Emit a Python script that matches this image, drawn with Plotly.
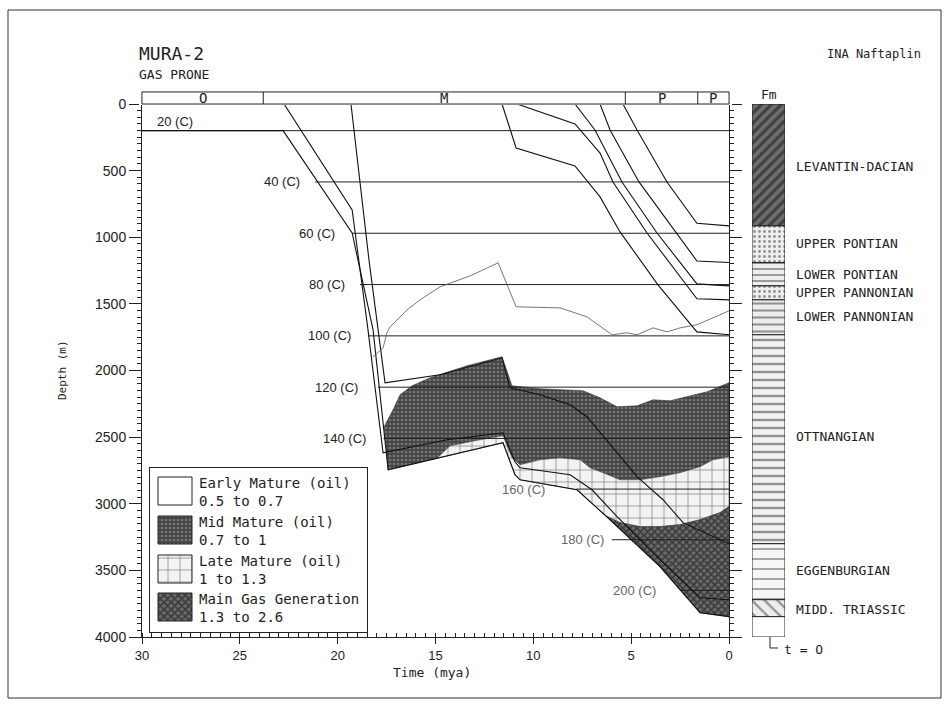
import plotly.graph_objects as go

W, H = 949, 707

# ---------------- data ----------------
epoch_labels = ["O", "M", "P", "P"]
epoch_bounds = [30.0, 23.8, 5.3, 1.6, 0.0]

iso_labels = ["20 (C)", "40 (C)", "60 (C)", "80 (C)", "100 (C)", "120 (C)",
              "140 (C)", "160 (C)", "180 (C)", "200 (C)"]
iso_depth = [200, 585, 970, 1355, 1740, 2125, 2510, 2890, 3270, 3650]
iso_start = [30.0, 21.15, 19.26, 18.86, 18.45, 17.94, 17.66, 7.80, 5.99, 2.47]

# burial curves of formation bases (time in mya, depth in m)
lev_base_t = [5.42, 4.70, 3.17, 1.64, 0.0]
lev_base_d = [0, 195, 585, 895, 915]
upont_base_t = [6.59, 6.08, 4.60, 2.66, 1.64, 0.0]
upont_base_d = [0, 195, 585, 968, 1178, 1190]
lpont_base_t = [7.87, 6.85, 5.47, 3.68, 1.64, 0.0]
lpont_base_d = [0, 195, 585, 968, 1350, 1365]
upann_base_t = [10.83, 7.87, 6.59, 5.93, 4.19, 1.64, 0.0]
upann_base_d = [0, 150, 368, 585, 968, 1462, 1470]
lpann_base_t = [11.60, 10.88, 7.87, 6.59, 5.57, 3.63, 1.64, 0.0]
lpann_base_d = [0, 330, 465, 697, 960, 1357, 1710, 1732]
ottn_base_t = [19.32, 18.40, 17.58, 14.77, 11.60, 11.19, 9.66, 8.12, 7.26, 5.72, 4.70, 3.37, 2.35, 0.0]
ottn_base_d = [0, 1170, 2092, 2032, 1905, 2130, 2182, 2257, 2347, 2617, 2797, 2970, 3142, 3300]
egg_base_t = [22.74, 19.26, 18.45, 17.68, 14.41, 11.55, 10.94, 10.68, 8.12, 7.00, 5.72, 3.53, 1.48, 0.0]
egg_base_d = [0, 795, 1695, 2617, 2520, 2467, 2685, 2730, 2782, 2895, 3097, 3420, 3705, 3720]
tri_base_t = [30.0, 22.79, 19.26, 18.19, 17.42, 11.55, 10.94, 10.68, 7.77, 6.08, 3.53, 1.48, 0.0]
tri_base_d = [200, 200, 968, 1695, 2745, 2542, 2782, 2820, 2895, 3120, 3472, 3817, 3847]

# maturity (Ro) boundaries
ro05_t = [18.19, 17.68, 17.48, 17.32, 16.81, 16.45, 15.79, 14.77, 13.23, 11.80, 10.88, 8.64,
          7.26, 5.98, 5.21, 4.70, 3.88, 3.17, 2.50, 1.64, 0.0]
ro05_d = [1897, 1830, 1717, 1672, 1597, 1545, 1470, 1372, 1290, 1192, 1522, 1530,
          1597, 1732, 1717, 1732, 1680, 1710, 1680, 1657, 1552]
ro07_t = [17.62, 17.17, 16.81, 16.20, 15.28, 13.39, 11.60, 11.09, 9.66, 7.46, 6.59, 5.72,
          4.70, 3.88, 3.01, 2.15, 1.12, 0.0]
ro07_d = [2420, 2295, 2182, 2115, 2055, 1965, 1897, 2115, 2137, 2152, 2205, 2272,
          2265, 2220, 2227, 2197, 2160, 2092]
ro10_t = [14.92, 14.26, 12.72, 11.55, 11.09, 10.68, 9.66, 8.64, 7.61, 7.10, 6.44, 5.57,
          4.55, 3.53, 2.50, 1.48, 0.82, 0.0]
ro10_d = [2659, 2565, 2520, 2490, 2655, 2707, 2670, 2655, 2670, 2730, 2767, 2820,
          2820, 2797, 2767, 2722, 2670, 2647]
ro13_t = [6.29, 5.57, 4.55, 3.53, 2.50, 1.48, 0.46, 0.0]
ro13_d = [3092, 3142, 3172, 3172, 3157, 3120, 3067, 3022]

# formation column
fm_names = ["LEVANTIN-DACIAN", "UPPER PONTIAN", "LOWER PONTIAN", "UPPER PANNONIAN",
            "LOWER PANNONIAN", "OTTNANGIAN", "EGGENBURGIAN", "MIDD. TRIASSIC"]
fm_top = [0, 915, 1190, 1365, 1470, 1732, 3300, 3720]
fm_base = [915, 1190, 1365, 1470, 1732, 3300, 3720, 3847]

leg_names = ["Early Mature (oil)", "Mid Mature (oil)", "Late Mature (oil)", "Main Gas Generation"]
leg_ranges = ["0.5 to 0.7", "0.7 to 1", "1 to 1.3", "1.3 to 2.6"]

# ---------------- styles / layout helpers ----------------
MONO = "DejaVu Sans Mono"
SANS = "Liberation Sans"
INK = "#222222"

def px(x):
    return x / W

def py(y):
    return 1 - y / H

def between(ts, ds, lo, hi):
    return sorted([(t, d) for t, d in zip(ts, ds) if lo < t < hi], key=lambda p: p[0])

mid_style = dict(shape="+", size=4, solidity=0.55, fgcolor="#0a0a0a", bgcolor="#737373")
late_style = dict(shape="+", size=12, solidity=0.12, fgcolor="#111111", bgcolor="#f3f3f3")
gas_style = dict(shape="x", size=5, solidity=0.55, fgcolor="#0a0a0a", bgcolor="#6a6a6a")

fig = go.Figure()

# ---------- maturity fills ----------
poly = list(zip(ro07_t, ro07_d)) + list(zip(ro10_t, ro10_d))[::-1] + \
    between(tri_base_t, tri_base_d, ro10_t[0], ro07_t[0])
poly.append(poly[0])
fig.add_trace(go.Scatter(x=[p[0] for p in poly], y=[p[1] for p in poly], fill="toself",
                         mode="lines", line=dict(color="#333", width=0.6),
                         fillcolor=mid_style["bgcolor"], fillpattern=mid_style, hoverinfo="skip"))
poly = list(zip(ro10_t, ro10_d)) + list(zip(ro13_t, ro13_d))[::-1] + \
    between(tri_base_t, tri_base_d, ro13_t[0], ro10_t[0])
poly.append(poly[0])
fig.add_trace(go.Scatter(x=[p[0] for p in poly], y=[p[1] for p in poly], fill="toself",
                         mode="lines", line=dict(color="#444", width=0.6),
                         fillcolor=late_style["bgcolor"], fillpattern=late_style, hoverinfo="skip"))
poly = list(zip(ro13_t, ro13_d)) + between(tri_base_t, tri_base_d, -1, ro13_t[0])
poly.append(poly[0])
fig.add_trace(go.Scatter(x=[p[0] for p in poly], y=[p[1] for p in poly], fill="toself",
                         mode="lines", line=dict(color="#333", width=0.6),
                         fillcolor=gas_style["bgcolor"], fillpattern=gas_style, hoverinfo="skip"))

# ---------- isotherms ----------
for d, t0 in zip(iso_depth, iso_start):
    fig.add_trace(go.Scatter(x=[t0, 0], y=[d, d], mode="lines",
                             line=dict(color=INK, width=1), hoverinfo="skip"))

# ---------- burial curves ----------
for ts, ds in [(lev_base_t, lev_base_d), (upont_base_t, upont_base_d), (lpont_base_t, lpont_base_d),
               (upann_base_t, upann_base_d), (lpann_base_t, lpann_base_d), (ottn_base_t, ottn_base_d),
               (egg_base_t, egg_base_d), (tri_base_t, tri_base_d)]:
    fig.add_trace(go.Scatter(x=ts, y=ds, mode="lines", line=dict(color="#111", width=1.1),
                             hoverinfo="skip"))

fig.add_trace(go.Scatter(x=ro05_t, y=ro05_d, mode="lines", line=dict(color="#555", width=0.8),
                         hoverinfo="skip"))

# ---------- formation column ----------
col_patterns = [
    dict(shape="/", size=7, solidity=0.45, fgcolor="#111", bgcolor="#6e6e6e"),
    dict(shape=".", size=5, solidity=0.25, fgcolor="#333", bgcolor="#eeeeee"),
    dict(shape="-", size=6, solidity=0.3, fgcolor="#333", bgcolor="#eeeeee"),
    dict(shape=".", size=5, solidity=0.25, fgcolor="#333", bgcolor="#eeeeee"),
    dict(shape="-", size=7, solidity=0.3, fgcolor="#333", bgcolor="#eeeeee"),
    dict(shape="-", size=8, solidity=0.3, fgcolor="#333", bgcolor="#f0f0f0"),
    dict(shape="-", size=10, solidity=0.18, fgcolor="#444", bgcolor="#f6f6f6"),
    dict(shape="\\", size=9, solidity=0.25, fgcolor="#333", bgcolor="#eeeeee"),
]
for top, base, pat in zip(fm_top, fm_base, col_patterns):
    fig.add_trace(go.Bar(x=[0], y=[base - top], base=[top], width=[1], xaxis="x2", yaxis="y",
                         marker=dict(color=pat["bgcolor"], pattern=pat, line=dict(color=INK, width=1)),
                         hoverinfo="skip"))
fig.add_trace(go.Bar(x=[0], y=[4000 - fm_base[-1]], base=[fm_base[-1]], width=[1], xaxis="x2", yaxis="y",
                     marker=dict(color="white", line=dict(color=INK, width=1)), hoverinfo="skip"))

# ---------- legend box (own small axes) ----------
sw_top = [9, 48, 87, 125]
styles = [None, mid_style, late_style, gas_style]
for top, st in zip(sw_top, styles):
    if st is None:
        mk = dict(color="white", line=dict(color=INK, width=1))
    else:
        mk = dict(color=st["bgcolor"], pattern=st, line=dict(color=INK, width=1))
    fig.add_trace(go.Bar(x=[25], y=[28], base=[top], width=[34], xaxis="x3", yaxis="y3",
                         marker=mk, hoverinfo="skip"))

fig.add_trace(go.Scatter(x=[None], y=[None], xaxis="x4", yaxis="y4", hoverinfo="skip"))

ann = []
iso_lab_t = [29.33, 21.82, 20.03, 19.52, 19.21, 18.86, 18.45, 9.30, 6.30, 3.63]
for i, (lab, d, lt) in enumerate(zip(iso_labels, iso_depth, iso_lab_t)):
    if i == 0:
        ann.append(dict(x=lt, y=d, xref="x", yref="y", text=lab, showarrow=False, xanchor="left",
                        yanchor="bottom", yshift=0, font=dict(family=SANS, size=13, color=INK)))
    else:
        ann.append(dict(x=lt, y=d, xref="x", yref="y", text=lab, showarrow=False, xanchor="right",
                        yanchor="middle", font=dict(family=SANS, size=13,
                                                    color=INK if i < 7 else "#666")))

for i, lab in enumerate(epoch_labels):
    ann.append(dict(x=(epoch_bounds[i] + epoch_bounds[i + 1]) / 2, y=0.5, xref="x4", yref="y4",
                    text=lab, showarrow=False, xanchor="center", yanchor="middle",
                    font=dict(family=MONO, size=14, color=INK)))

fm_lab_d = [472, 1050, 1282, 1417, 1597, 2497, 3502, 3795]
for name, d in zip(fm_names, fm_lab_d):
    ann.append(dict(x=px(794), y=d, xref="paper", yref="y", text=name, showarrow=False,
                    xanchor="left", yanchor="middle", font=dict(family=MONO, size=13, color=INK)))

for top, n1, n2 in zip(sw_top, leg_names, leg_ranges):
    ann.append(dict(x=47, y=top + 6, xref="x3", yref="y3", text=n1, showarrow=False, xanchor="left",
                    yanchor="middle", font=dict(family=MONO, size=14, color=INK)))
    ann.append(dict(x=47, y=top + 24, xref="x3", yref="y3", text=n2, showarrow=False, xanchor="left",
                    yanchor="middle", font=dict(family=MONO, size=14, color=INK)))

def free_text(x, y, text, size, xanchor="center", angle=0):
    return dict(x=px(x), y=py(y), xref="paper", yref="paper", text=text, showarrow=False,
                xanchor=xanchor, yanchor="middle", textangle=angle,
                font=dict(family=MONO, size=size, color=INK))

ann += [
    free_text(137, 53, "MURA-2", 18, "left"),
    free_text(137, 74, "GAS PRONE", 13, "left"),
    free_text(923, 54, "INA Naftaplin", 12, "right"),
    free_text(769, 95, "Fm", 13),
    free_text(782, 649, "t = O", 13, "left"),
    free_text(432, 672, "Time (mya)", 13),
    free_text(62, 370, "Depth (m)", 11, angle=-90),
]

shapes = [
    dict(type="rect", xref="paper", yref="paper", x0=px(8), x1=px(941), y0=py(698), y1=py(10),
         line=dict(color="#333", width=1)),
    dict(type="rect", xref="x4", yref="y4", x0=epoch_bounds[0], x1=epoch_bounds[-1], y0=0, y1=1,
         line=dict(color=INK, width=1)),
    dict(type="line", xref="paper", yref="paper", x0=px(770), x1=px(770), y0=py(637), y1=py(648),
         line=dict(color=INK, width=1)),
    dict(type="line", xref="paper", yref="paper", x0=px(770), x1=px(778), y0=py(648), y1=py(648),
         line=dict(color=INK, width=1)),
]
for b in epoch_bounds[1:-1]:
    shapes.append(dict(type="line", xref="x4", yref="y4", x0=b, x1=b, y0=0, y1=1,
                       line=dict(color=INK, width=1)))

tickfont = dict(family=SANS, size=14, color=INK)
fig.update_layout(
    width=W, height=H, margin=dict(l=0, r=0, t=0, b=0, autoexpand=False),
    paper_bgcolor="white", plot_bgcolor="white", showlegend=False, barmode="overlay",
    xaxis=dict(domain=[px(142), px(729)], range=[30, 0], anchor="y",
               tickvals=[30, 25, 20, 15, 10, 5, 0], ticks="outside", ticklen=6, tickcolor=INK,
               showline=True, linecolor=INK, linewidth=1, mirror=True, showgrid=False,
               zeroline=False, tickfont=dict(family=SANS, size=13, color=INK),
               minor=dict(dtick=0.5, ticks="inside", ticklen=4, tickcolor=INK, showgrid=False)),
    yaxis=dict(domain=[py(637), py(104)], range=[4000, 0], anchor="x", dtick=500,
               ticks="outside", ticklen=12, tickcolor=INK, showline=True, linecolor=INK,
               linewidth=1, mirror="ticks", showgrid=False, zeroline=False, tickfont=tickfont,
               minor=dict(dtick=50, ticks="outside", ticklen=4, tickcolor=INK, showgrid=False)),
    xaxis2=dict(domain=[px(752), px(785)], range=[-0.5, 0.5], anchor="y", visible=False),
    xaxis3=dict(domain=[px(150), px(367)], range=[0, 217], anchor="y3", showline=True, mirror=True,
                linecolor=INK, linewidth=1, showticklabels=False, ticks="", showgrid=False,
                zeroline=False),
    yaxis3=dict(domain=[py(632), py(468)], range=[164, 0], anchor="x3", showline=True, mirror=True,
                linecolor=INK, linewidth=1, showticklabels=False, ticks="", showgrid=False,
                zeroline=False),
    xaxis4=dict(domain=[px(142 - 3), px(729 + 3)], range=[30.15, -0.15], anchor="y4", visible=False),
    yaxis4=dict(domain=[py(105), py(91)], range=[-0.08, 1.08], anchor="x4", visible=False),
    annotations=ann, shapes=shapes,
)

fig.write_html("out.html", config={"displayModeBar": False},
               post_script="document.body.style.margin='0';document.body.style.padding='0';"
                           "document.body.style.overflow='hidden';")
